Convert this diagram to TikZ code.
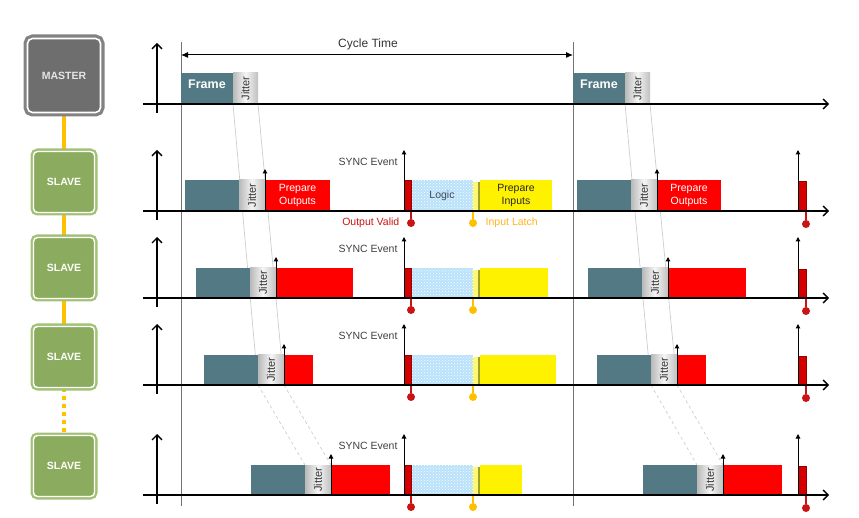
\documentclass[tikz,border=0pt]{standalone}
\usepackage{fontspec}
\setmainfont{Liberation Sans}
\usepackage{tikz}
\usetikzlibrary{
	arrows.meta,
	positioning,
	fit,
	backgrounds,
	patterns
}

\definecolor{frameteal}{RGB}{83,121,132}
\definecolor{mastergray}{RGB}{110,110,110}
\definecolor{masterrim}{RGB}{130,130,130}
\definecolor{slavegreen}{RGB}{139,172,94}
\definecolor{slaverim}{RGB}{162,193,118}
\definecolor{busorange}{RGB}{255,192,0}
\definecolor{syncred}{RGB}{212,0,0}
\definecolor{validred}{RGB}{200,20,20}
\definecolor{logicblue}{RGB}{185,225,250}
\definecolor{logictext}{RGB}{60,75,90}
\definecolor{latchorange}{RGB}{255,180,30}
\definecolor{stripolive}{RGB}{160,160,40}

\begin{document}
\begin{tikzpicture}[
				x=1pt, y=-1pt,
				font=\fontsize{10.5}{12.5}\selectfont,
				masterbox/.style={
					rectangle, rounded corners=5pt,
					minimum width=73pt, minimum height=74pt,
					fill=mastergray, draw=white, line width=1.6pt,
					preaction={draw=masterrim, line width=8pt},
					text=gray!20, font=\fontsize{10.5}{12}\selectfont\bfseries
				},
				slavebox/.style={
					rectangle, rounded corners=4pt,
					minimum width=61pt, minimum height=61pt,
					fill=slavegreen, draw=white, line width=1.4pt,
					preaction={draw=slaverim, line width=6pt},
					text=white, font=\fontsize{10.5}{12}\selectfont\bfseries
				},
				bus/.style={busorange, line width=4pt},
				seg/.style={inner sep=0pt, outer sep=0pt},
				framebox/.style={seg, fill=frameteal, text=white, font=\fontsize{12.5}{14}\selectfont\bfseries},
				jitbox/.style={seg, left color=gray!55, right color=gray!50, middle color=gray!8},
				jittxt/.style={rotate=90, inner sep=0pt, text=black!80, font=\fontsize{11}{12}\selectfont},
				outbox/.style={seg, fill=red},
				syncbar/.style={seg, fill=syncred, draw=red!60!black, line width=0.4pt},
				logicbox/.style={seg, fill=logicblue, postaction={pattern=crosshatch dots, pattern color=white}},
				latchbox/.style={seg, fill=yellow!55},
				stripbox/.style={seg, fill=stripolive},
				inbox/.style={seg, fill=yellow},
				axis/.style={line width=1.3pt, -{Straight Barb[length=5pt, width=10pt]}},
				tiparrow/.style={line width=1pt, -{Triangle[length=4.5pt, width=4.5pt]}},
				cycarrow/.style={line width=1pt, {Latex[length=7pt, width=6pt]}-{Latex[length=7pt, width=6pt]}},
				cycline/.style={black!55, line width=0.9pt},
				skew/.style={gray!40, line width=0.7pt},
				skewdash/.style={skew, dashed},
				vdot/.style={circle, fill=validred, minimum size=8pt, inner sep=0pt},
				ldot/.style={circle, fill=busorange, minimum size=8pt, inner sep=0pt},
				vstem/.style={validred, line width=1.1pt},
				lstem/.style={busorange, line width=1.1pt},
				synctxt/.style={anchor=east, text=black!75},
				]
				\useasboundingbox (0,0) rectangle (859,518);
				
				%master and slaves
				\node[masterbox] (master) at (64,75.5) {MASTER};
				\node[slavebox] (slave1) at (64,182) {SLAVE};
				\node[slavebox] (slave2) at (64,268) {SLAVE};
				\node[slavebox] (slave3) at (64,357) {SLAVE};
				\node[slavebox] (slave4) at (64,466) {SLAVE};
				
				%cycle borders
				\coordinate (cycTopA) at (181,42);
				\coordinate (cycBotA) at (181,506);
				\coordinate (cycTopB) at (573,42);
				\coordinate (cycBotB) at (573,506);
				\draw[cycline] (cycTopA) -- (cycBotA);
				\draw[cycline] (cycTopB) -- (cycBotB);
				\coordinate (cycA) at (181,55);
				\coordinate (cycB) at (573,55);
				\draw[cycarrow] (cycA) -- (cycB);
				\node[font=\fontsize{12}{14}\selectfont, text=black!80] (cyctxt) at (368,44) {Cycle Time};
				
				%master row
				\node[framebox, fit={(181,73) (233,104)}] (frmA0) {Frame};
				\node[jitbox, fit={(233,73) (258,104)}] (jitA0) {};
				\node[jittxt] (jtxA0) at (jitA0.center) {Jitter};
				\node[framebox, fit={(573,73) (625,104)}] (frmB0) {Frame};
				\node[jitbox, fit={(625,73) (650,104)}] (jitB0) {};
				\node[jittxt] (jtxB0) at (jitB0.center) {Jitter};
				\coordinate (axL0) at (143,104);
				\coordinate (axR0) at (829,104);
				\coordinate (ayB0) at (157,113);
				\coordinate (ayT0) at (157,43);
				\draw[axis] (axL0) -- (axR0);
				\draw[axis] (ayB0) -- (ayT0);
				
				%slave rows
				\foreach \r/\yb/\yt/\fa/\ra/\fb/\rb/\ye in {1/211/180/185/330/577/721/552, 2/298/268/196/353/588/746/548, 3/385/355/204/313/597/706/556, 4/495/465/251/390/643/782/522}{
					%first cycle
					\node[framebox, fit={(\fa,\yt) (\fa+54,\yb)}] (frmA\r) {};
					\node[jitbox, fit={(\fa+54,\yt) (\fa+80,\yb)}] (jitA\r) {};
					\node[jittxt] (jtxA\r) at (jitA\r.center) {Jitter};
					\node[outbox, fit={(\fa+80,\yt) (\ra,\yb)}] (outA\r) {};
					\coordinate (jtA\r) at (\fa+80,\yt-11);
					\draw[tiparrow] (jitA\r.south east) -- (jtA\r);
					
					%sync event
					\node[logicbox, fit={(411,\yt) (473,\yb)}] (logA\r) {};
					\node[latchbox, fit={(473,\yt+2) (478,\yb)}] (ltA\r) {};
					\node[stripbox, fit={(477.5,\yt+2) (480,\yb)}] (stA\r) {};
					\node[inbox, fit={(480,\yt) (\ye,\yb)}] (inA\r) {};
					\node[syncbar, fit={(404,\yt) (411,\yb)}] (synA\r) {};
					\coordinate (syA\r) at (404,\yb);
					\coordinate (syTA\r) at (404,\yb-61);
					\draw[tiparrow] (syA\r) -- (syTA\r);
					\node[synctxt] (sytA\r) at (401,\yb-49) {SYNC Event};
					\coordinate (ovsA\r) at (411,\yb);
					\node[vdot] (ovA\r) at (411,\yb+12) {};
					\draw[vstem] (ovsA\r) -- (ovA\r);
					\coordinate (ilsA\r) at (473,\yb);
					\node[ldot] (ilA\r) at (473,\yb+12) {};
					\draw[lstem] (ilsA\r) -- (ilA\r);
					
					%second cycle
					\node[framebox, fit={(\fb,\yt) (\fb+54,\yb)}] (frmB\r) {};
					\node[jitbox, fit={(\fb+54,\yt) (\fb+80,\yb)}] (jitB\r) {};
					\node[jittxt] (jtxB\r) at (jitB\r.center) {Jitter};
					\node[outbox, fit={(\fb+80,\yt) (\rb,\yb)}] (outB\r) {};
					\coordinate (jtB\r) at (\fb+80,\yt-11);
					\draw[tiparrow] (jitB\r.south east) -- (jtB\r);
					\node[syncbar, fit={(798,\yt+1) (806,\yb)}] (synB\r) {};
					\coordinate (syB\r) at (798,\yb);
					\coordinate (syTB\r) at (798,\yb-61);
					\draw[tiparrow] (syB\r) -- (syTB\r);
					\coordinate (ovsB\r) at (806,\yb);
					\node[vdot] (ovB\r) at (806,\yb+13) {};
					\draw[vstem] (ovsB\r) -- (ovB\r);
					
					%axes
					\coordinate (axL\r) at (143,\yb);
					\coordinate (axR\r) at (829,\yb);
					\coordinate (ayB\r) at (157,\yb+9);
					\coordinate (ayT\r) at (157,\yb-61);
					\draw[axis] (axL\r) -- (axR\r);
					\draw[axis] (ayB\r) -- (ayT\r);
				}
				
				%texts of first slave
				\node[align=center, text=white] (pout) at (outA1.center) {Prepare\\Outputs};
				\node[align=center, text=white] (poutB) at (outB1.center) {Prepare\\Outputs};
				\node[text=logictext] (logic) at (logA1.center) {Logic};
				\node[align=center, text=black!85] (pin) at (inA1.center) {Prepare\\Inputs};
				\node[left=4pt of ovA1, text=validred] (ovtxt) {Output Valid};
				\node[right=5pt of ilA1, text=latchorange] (iltxt) {Input Latch};
				
				\begin{scope}[on background layer]
					%bus
					\draw[bus] (master) -- (slave1);
					\draw[bus] (slave1) -- (slave2);
					\draw[bus] (slave2) -- (slave3);
					\draw[bus, dash pattern=on 4pt off 4pt] (slave3) -- (slave4);
					%jitter drift
					\draw[skew] (jitA0.south west) -- (jitA3.south west);
					\draw[skew] (jitA0.south east) -- (jitA3.south east);
					\draw[skewdash] (jitA3.south west) -- (jitA4.north west);
					\draw[skewdash] (jitA3.south east) -- (jitA4.north east);
					\draw[skew] (jitB0.south west) -- (jitB3.south west);
					\draw[skew] (jitB0.south east) -- (jitB3.south east);
					\draw[skewdash] (jitB3.south west) -- (jitB4.north west);
					\draw[skewdash] (jitB3.south east) -- (jitB4.north east);
				\end{scope}
			\end{tikzpicture}
\end{document}
